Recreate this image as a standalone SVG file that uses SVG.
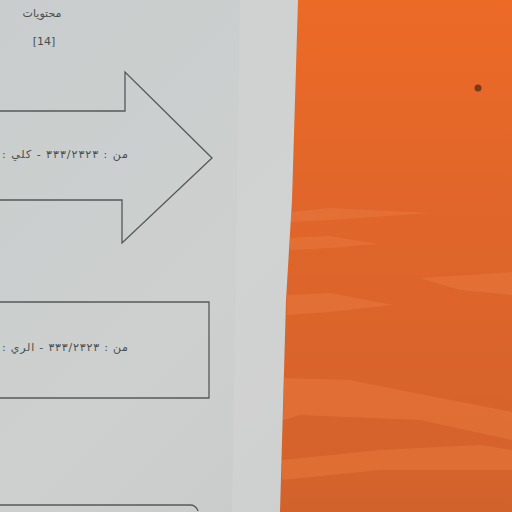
<svg xmlns="http://www.w3.org/2000/svg" width="512" height="512" viewBox="0 0 512 512">
<defs>
<linearGradient id="paper" x1="0" y1="0" x2="1" y2="1">
<stop offset="0" stop-color="#c9cdcd"/>
<stop offset="0.5" stop-color="#cdd0cf"/>
<stop offset="1" stop-color="#c6c8c6"/>
</linearGradient>
<linearGradient id="org" x1="0" y1="0" x2="0" y2="1">
<stop offset="0" stop-color="#ec6a26"/>
<stop offset="0.35" stop-color="#e2662a"/>
<stop offset="1" stop-color="#d2622c"/>
</linearGradient>
</defs>
<style>
.ln{fill:none;stroke:#55595a;stroke-width:1.3}
.t{font-family:"DejaVu Sans",sans-serif;fill:#4a4d4e;font-size:11px}
.st{fill:#e8793e;opacity:0.55}
</style>
<rect width="512" height="512" fill="url(#paper)"/>
<path d="M240 0 L298 0 L292 250 L282 512 L232 512 Z" fill="#d6d8d6" opacity="0.4"/>
<path d="M298 0 L512 0 L512 512 L280 512 L286 300 L292 200 Z" fill="url(#org)"/>
<path class="st" d="M291 212 L330 208 L430 213 L330 220 L291 222 Z"/>
<path class="st" d="M290 238 L330 236 L378 244 L330 248 L290 250 Z"/>
<path class="st" d="M420 278 L512 272 L512 295 L460 290 Z"/>
<path class="st" d="M287 295 L330 293 L393 305 L330 312 L287 315 Z"/>
<path class="st" d="M284 378 L350 380 L440 398 L512 412 L512 440 L420 420 L300 415 L283 420 Z"/>
<path class="st" d="M282 460 L380 450 L480 445 L512 450 L512 470 L380 470 L282 480 Z"/>
<circle cx="478" cy="88" r="3.5" fill="#7a3a1a"/>
<g id="title">
<text class="t" x="42" y="17" text-anchor="middle" direction="rtl">محتويات</text>
<text class="t" x="44" y="45" text-anchor="middle">[14]</text>
</g>
<g id="arrow">
<path class="ln" d="M0 111 L125 111 L125 72 L212 158 L122 243 L122 200 L0 200"/>
<text class="t" x="128" y="158" direction="rtl" text-anchor="start" textLength="126" lengthAdjust="spacing">من : ٣٣٣/٢٣٢٣ - كلي :</text>
</g>
<g id="box">
<path class="ln" d="M0 302 L209 302 L209 398 L0 398"/>
<text class="t" x="128" y="351" direction="rtl" text-anchor="start" textLength="126" lengthAdjust="spacing">من : ٣٣٣/٢٣٢٣ - الري :</text>
</g>
<g id="bottom">
<path class="ln" d="M0 505 L190 505 Q196 505 198 511"/>
</g>
</svg>
